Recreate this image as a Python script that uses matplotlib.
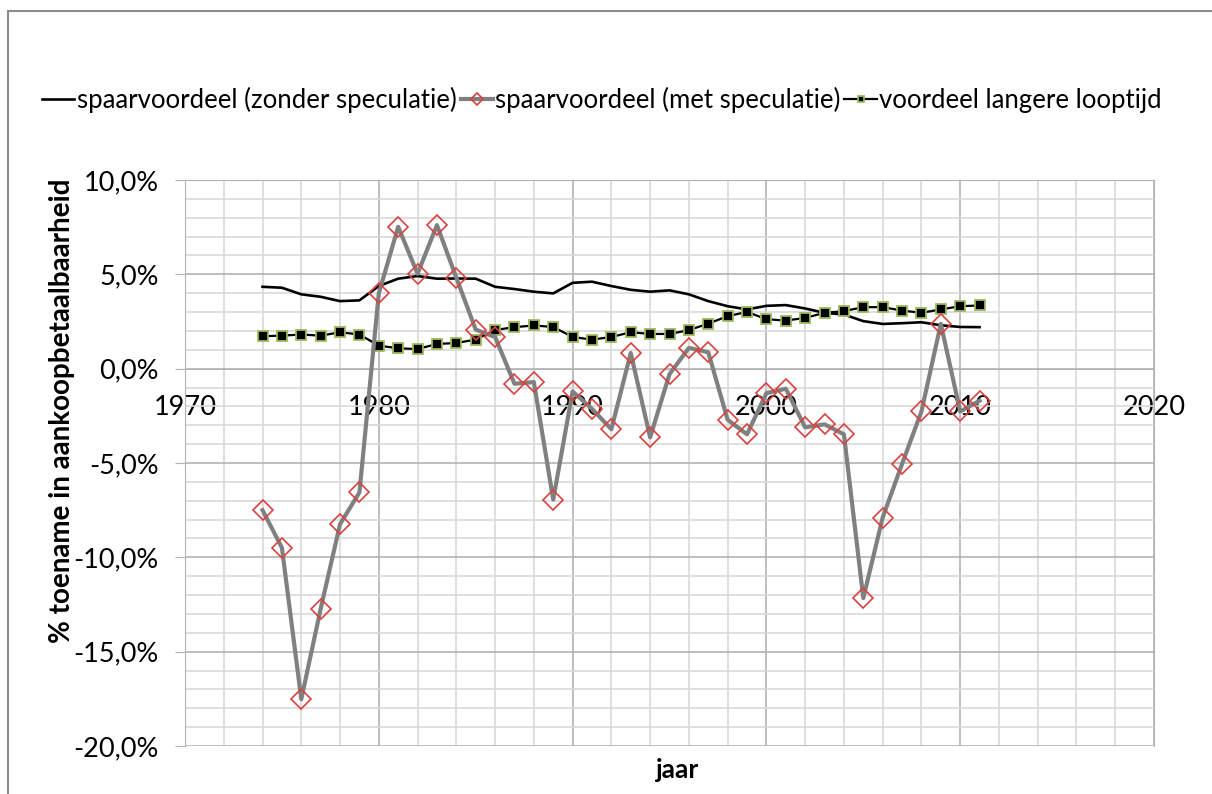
import matplotlib
matplotlib.use("Agg")
import matplotlib.pyplot as plt
from matplotlib.patches import Rectangle
from matplotlib.ticker import MultipleLocator, FuncFormatter

plt.rcParams['font.family'] = ['Lato', 'DejaVu Sans']

# --------------------------------------------------
# Data
# --------------------------------------------------

years = list(range(1974, 2012))

zonder_speculatie = [
    4.34, 4.29, 3.94, 3.81, 3.58, 3.62, 4.38, 4.77, 4.91, 4.77,
    4.78, 4.77, 4.34, 4.22, 4.08, 3.99, 4.55, 4.61, 4.38, 4.18,
    4.08, 4.15, 3.94, 3.58, 3.31, 3.14, 3.33, 3.37, 3.19, 2.96,
    2.87, 2.52, 2.37, 2.41, 2.46, 2.30, 2.21, 2.20,
]

met_speculatie = [
    -7.50, -9.49, -17.52, -12.73, -8.24, -6.56, 3.99, 7.52, 5.03, 7.61,
    4.82, 2.07, 1.68, -0.80, -0.71, -6.94, -1.21, -2.13, -3.21, 0.83,
    -3.64, -0.29, 1.10, 0.87, -2.71, -3.48, -1.30, -1.06, -3.11, -2.95,
    -3.48, -12.16, -7.89, -5.05, -2.27, 2.37, -2.27, -1.70,
]

langere_looptijd = [
    1.72, 1.75, 1.81, 1.75, 1.93, 1.81, 1.22, 1.08, 1.04, 1.31,
    1.36, 1.54, 2.05, 2.20, 2.29, 2.21, 1.68, 1.54, 1.68, 1.93,
    1.84, 1.84, 2.04, 2.39, 2.78, 3.01, 2.62, 2.55, 2.69, 2.96,
    3.05, 3.26, 3.26, 3.08, 2.96, 3.14, 3.31, 3.35,
]

labels = [
    "spaarvoordeel (zonder speculatie)",
    "spaarvoordeel (met speculatie)",
    "voordeel langere looptijd",
]

# --------------------------------------------------
# Figure
# --------------------------------------------------

fig = plt.figure(figsize=(12.12, 7.94), dpi=100)
fig.patches.append(Rectangle((8 / 1212, -0.1), 1.2, 1.1 - 11 / 794,
                             transform=fig.transFigure, fill=False,
                             edgecolor="#8c8c8c", linewidth=1.5))

ax = fig.add_axes([185 / 1212, 48 / 794, 969 / 1212, 566 / 794])

ax.plot(years, zonder_speculatie, color="black", linewidth=1.9,
        label=labels[0], zorder=3)
ax.plot(years, met_speculatie, color="#808080", linewidth=3.0,
        marker="D", markersize=10, markerfacecolor="none",
        markeredgecolor="#d9413f", markeredgewidth=1.2,
        label=labels[1], zorder=4)
ax.plot(years, langere_looptijd, color="black", linewidth=1.6,
        marker="s", markersize=7, markerfacecolor="black",
        markeredgecolor="#9bbb59", markeredgewidth=1.3,
        label=labels[2], zorder=3)

ax.set_xlim(1970, 2020)
ax.set_ylim(-20, 10)

ax.xaxis.set_major_locator(MultipleLocator(10))
ax.xaxis.set_minor_locator(MultipleLocator(2))
ax.yaxis.set_major_locator(MultipleLocator(5))
ax.yaxis.set_minor_locator(MultipleLocator(1))

ax.yaxis.set_major_formatter(
    FuncFormatter(lambda v, p: f"{v:.1f}%".replace(".", ",")))

ax.grid(which="major", color="#b3b3b3", linewidth=1.2, zorder=0)
ax.grid(which="minor", color="#d9d9d9", linewidth=1.2, zorder=0)
ax.set_axisbelow(True)

for side in ["top", "right", "left"]:
    ax.spines[side].set_color("#b3b3b3")
ax.spines["bottom"].set_position(("data", 0))
ax.spines["bottom"].set_color("#b3b3b3")

ax.tick_params(axis="x", which="both", length=0, pad=19, labelsize=19.5)
ax.tick_params(axis="y", which="major", length=7, color="#b3b3b3",
               pad=12, labelsize=19.5)
ax.tick_params(axis="y", which="minor", length=0)

ax.set_ylabel("% toename in aankoopbetaalbaarheid", fontsize=20,
              fontweight="bold")
ax.yaxis.set_label_coords((62 - 185) / 969, (746 - 411) / 566)
ax.yaxis.label.set_va("center")
fig.text(678 / 1212, 1 - 770 / 794, "jaar", fontsize=19,
         fontweight="bold", ha="center", va="center")

fig.legend(loc="center", bbox_to_anchor=(602 / 1212, 1 - 100 / 794),
           ncol=3, frameon=False, fontsize=18.5, handlelength=1.25,
           handletextpad=0.1, columnspacing=0.15, markerscale=0.6)

plt.savefig("out.png", dpi=100)
plt.close()

print("Figure Saved.")
